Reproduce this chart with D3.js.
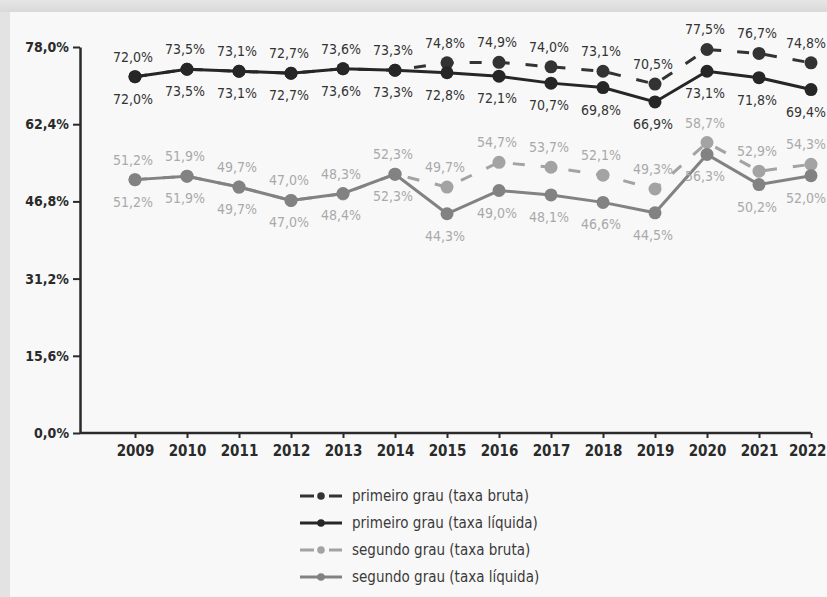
<!DOCTYPE html>
<html>
<head>
<meta charset="utf-8">
<script src="https://cdn.jsdelivr.net/npm/d3@7/dist/d3.min.js"></script>
<style>
  html, body { margin: 0; padding: 0; background: #e2e2e2; }
  svg { display: block; }
  text { font-family: "Liberation Sans Narrow", "DejaVu Sans Condensed", "Roboto Condensed", sans-serif; }
</style>
</head>
<body>
<svg id="chart" width="827" height="597"></svg>
<script>
// Years on the horizontal axis
const years = [2009, 2010, 2011, 2012, 2013, 2014, 2015, 2016, 2017, 2018, 2019, 2020, 2021, 2022];

// Enrolment rates (%) per year
const primeiroBruta  = [72.0, 73.5, 73.1, 72.7, 73.6, 73.3, 74.8, 74.9, 74.0, 73.1, 70.5, 77.5, 76.7, 74.8];
const primeiroLiquida = [72.0, 73.5, 73.1, 72.7, 73.6, 73.3, 72.8, 72.1, 70.7, 69.8, 66.9, 73.1, 71.8, 69.4];
const segundoBruta   = [51.2, 51.9, 49.7, 47.0, 48.3, 52.3, 49.7, 54.7, 53.7, 52.1, 49.3, 58.7, 52.9, 54.3];
const segundoLiquida = [51.2, 51.9, 49.7, 47.0, 48.4, 52.3, 44.3, 49.0, 48.1, 46.6, 44.5, 56.3, 50.2, 52.0];

// Vertical axis ticks
const yTicks = [0, 15.6, 31.2, 46.8, 62.4, 78.0];

const seriesNames = [
  "primeiro grau (taxa bruta)",
  "primeiro grau (taxa líquida)",
  "segundo grau (taxa bruta)",
  "segundo grau (taxa líquida)"
];

const fmt = v => v.toFixed(1).replace(".", ",") + "%";
const W = 827, H = 597, rightLimit = 826;

const svg = d3.select("#chart");

// card background with a soft shadow along top and left edges
const defs = svg.append("defs");
const gTop = defs.append("linearGradient").attr("id", "shTop").attr("x1", 0).attr("y1", 0).attr("x2", 0).attr("y2", 1);
gTop.append("stop").attr("offset", "0%").attr("stop-color", "#e6e6e6");
gTop.append("stop").attr("offset", "100%").attr("stop-color", "#d9d9d9");
svg.append("rect").attr("x", 0).attr("y", 0).attr("width", W).attr("height", H).attr("fill", "#e3e3e3");
svg.append("rect").attr("x", 0).attr("y", 0).attr("width", W).attr("height", 12).attr("fill", "url(#shTop)");
svg.append("rect").attr("x", 10).attr("y", 12).attr("width", W - 10).attr("height", H - 12).attr("fill", "#f8f8f8");

const x = d3.scalePoint().domain(years).range([135, 811]);
const y = d3.scaleLinear().domain([0, 78]).range([433, 47]);
const axisLeftX = 80;

// keep centred texts inside the right edge
function keepInside(sel) {
  sel.each(function () {
    const w = this.getComputedTextLength();
    const cx = +d3.select(this).attr("x") || 0;
    if (cx + w / 2 > rightLimit) d3.select(this).attr("x", rightLimit - w / 2);
  });
}

// y axis
const yAxis = svg.append("g")
  .attr("transform", `translate(${axisLeftX},0)`)
  .call(d3.axisLeft(y).tickValues(yTicks).tickSize(7).tickSizeOuter(0).tickFormat(fmt));
yAxis.select(".domain").attr("stroke", "#2a2a2a").attr("stroke-width", 2.5);
yAxis.selectAll(".tick line").attr("stroke", "#2a2a2a").attr("stroke-width", 2);
yAxis.selectAll(".tick text")
  .attr("x", -11)
  .attr("fill", "#2a2a2a")
  .attr("font-size", 14)
  .attr("font-weight", "bold");

// x axis
const xAxis = svg.append("g")
  .attr("transform", `translate(0,${y(0)})`)
  .call(d3.axisBottom(x).tickSize(5).tickSizeOuter(0));
xAxis.select(".domain").remove();
xAxis.append("line")
  .attr("x1", axisLeftX).attr("x2", x(2022))
  .attr("stroke", "#2a2a2a").attr("stroke-width", 2.5);
xAxis.selectAll(".tick line").attr("stroke", "#2a2a2a").attr("stroke-width", 2);
xAxis.selectAll(".tick text")
  .attr("y", 12)
  .attr("fill", "#2a2a2a")
  .attr("font-size", 15)
  .attr("font-weight", "bold");
xAxis.selectAll(".tick").each(function (d) {
  const t = d3.select(this).select("text").node();
  const w = t.getComputedTextLength();
  const over = x(d) + w / 2 - rightLimit;
  if (over > 0) d3.select(t).attr("x", -over);
});

const series = [
  { values: segundoBruta,    line: "#a3a3a3", dot: "#a3a3a3", label: "#a9a9a9", dash: "12,16", pos: "above" },
  { values: segundoLiquida,  line: "#828282", dot: "#828282", label: "#a9a9a9", dash: null,    pos: "below" },
  { values: primeiroBruta,   line: "#333333", dot: "#333333", label: "#333333", dash: "12,16", pos: "above" },
  { values: primeiroLiquida, line: "#262626", dot: "#262626", label: "#333333", dash: null,    pos: "below" }
];

const line = d3.line().x((d, i) => x(years[i])).y(d => y(d));

series.forEach(s => {
  const g = svg.append("g");
  g.append("path")
    .attr("d", line(s.values))
    .attr("fill", "none")
    .attr("stroke", s.line)
    .attr("stroke-width", 3)
    .attr("stroke-dasharray", s.dash);
  g.selectAll("circle").data(s.values).join("circle")
    .attr("cx", (d, i) => x(years[i]))
    .attr("cy", d => y(d))
    .attr("r", 6.5)
    .attr("fill", s.dot);
});

// value labels
series.forEach(s => {
  svg.append("g").selectAll("text").data(s.values).join("text")
    .attr("x", (d, i) => x(years[i]) - 2)
    .attr("y", d => y(d) + (s.pos === "above" ? -20 : 22))
    .attr("dominant-baseline", "central")
    .attr("text-anchor", "middle")
    .attr("font-size", 14)
    .attr("fill", s.label)
    .text(d => fmt(d))
    .call(keepInside);
});

// legend
const legendOrder = [series[2], series[3], series[0], series[1]];
const legend = svg.append("g").attr("transform", "translate(300,496)");
legendOrder.forEach((s, i) => {
  const row = legend.append("g").attr("transform", `translate(0,${i * 27})`);
  if (s.dash) {
    row.append("line").attr("x1", 0).attr("x2", 14).attr("stroke", s.line).attr("stroke-width", 3);
    row.append("line").attr("x1", 29).attr("x2", 42).attr("stroke", s.line).attr("stroke-width", 3);
  } else {
    row.append("line").attr("x1", 0).attr("x2", 42).attr("stroke", s.line).attr("stroke-width", 3);
  }
  row.append("circle").attr("cx", 21).attr("cy", 0).attr("r", 3.8).attr("fill", s.dot);
  row.append("text")
    .attr("x", 52).attr("y", 0)
    .attr("dominant-baseline", "central")
    .attr("font-size", 15)
    .attr("fill", "#3a3a3a")
    .text(seriesNames[i]);
});
</script>
</body>
</html>
